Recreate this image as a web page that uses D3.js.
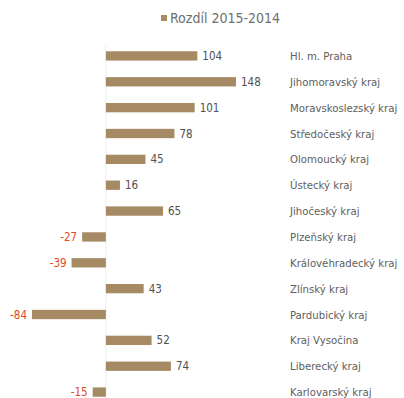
<!DOCTYPE html>
<html>
<head>
<meta charset="utf-8">
<script src="https://cdn.jsdelivr.net/npm/d3@7"></script>
<style>
  body { margin: 0; background: #fff; }
  svg { display: block; font-family: "DejaVu Sans Condensed", "DejaVu Sans", sans-serif; }
</style>
</head>
<body>
<svg id="chart" width="404" height="398"></svg>
<script>
// kraje a rozdil poctu 2015-2014
var regions = ["Hl. m. Praha", "Jihomoravský kraj", "Moravskoslezský kraj", "Středočeský kraj",
  "Olomoucký kraj", "Ústecký kraj", "Jihočeský kraj", "Plzeňský kraj", "Královéhradecký kraj",
  "Zlínský kraj", "Pardubický kraj", "Kraj Vysočina", "Liberecký kraj", "Karlovarský kraj"];
var diffs = [104, 148, 101, 78, 45, 16, 65, -27, -39, 43, -84, 52, 74, -15];
var legendLabel = "Rozdíl 2015-2014";

var barColor = "#a58a63";

var svg = d3.select("#chart");

var xscale = d3.scaleLinear()
  .domain([-84, 148])
  .range([32, 236]);

var yscale = d3.scaleBand()
  .domain(regions)
  .range([43, 405])
  .paddingInner(0.64)
  .paddingOuter(0.32);

// legenda
svg.append("rect")
  .attr("x", 161).attr("y", 15)
  .attr("width", 6).attr("height", 6)
  .attr("fill", barColor);
svg.append("text")
  .attr("x", 170).attr("y", 23)
  .attr("font-size", 14)
  .attr("fill", "#6f6f6f")
  .text(legendLabel);

// nulova osa
svg.append("line")
  .attr("x1", xscale(0)).attr("x2", xscale(0))
  .attr("y1", 44).attr("y2", 398)
  .attr("stroke", "#eee")
  .attr("stroke-width", 1);

var rows = regions.map(function(r, i) { return {region: r, value: diffs[i]}; });

svg.selectAll("rect.bar")
  .data(rows)
  .enter()
  .append("rect")
  .attr("class", "bar")
  .attr("x", function(d) { return xscale(Math.min(0, d.value)); })
  .attr("y", function(d) { return yscale(d.region); })
  .attr("width", function(d) { return Math.abs(xscale(d.value) - xscale(0)); })
  .attr("height", yscale.bandwidth())
  .attr("fill", barColor);

svg.selectAll("text.val")
  .data(rows)
  .enter()
  .append("text")
  .attr("class", "val")
  .attr("x", function(d) { return d.value < 0 ? xscale(d.value) - 5 : xscale(d.value) + 5; })
  .attr("y", function(d) { return yscale(d.region) + yscale.bandwidth() / 2; })
  .attr("dy", "0.36em")
  .attr("text-anchor", function(d) { return d.value < 0 ? "end" : "start"; })
  .attr("font-size", 11.5)
  .attr("fill", function(d) { return d.value < 0 ? "#e04a24" : "#505050"; })
  .text(function(d) { return d.value; });

svg.selectAll("text.lab")
  .data(rows)
  .enter()
  .append("text")
  .attr("class", "lab")
  .attr("x", 290)
  .attr("y", function(d) { return yscale(d.region) + yscale.bandwidth() / 2; })
  .attr("dy", "0.36em")
  .attr("font-size", 11.3)
  .attr("fill", "#606060")
  .text(function(d) { return d.region; });
</script>
</body>
</html>
